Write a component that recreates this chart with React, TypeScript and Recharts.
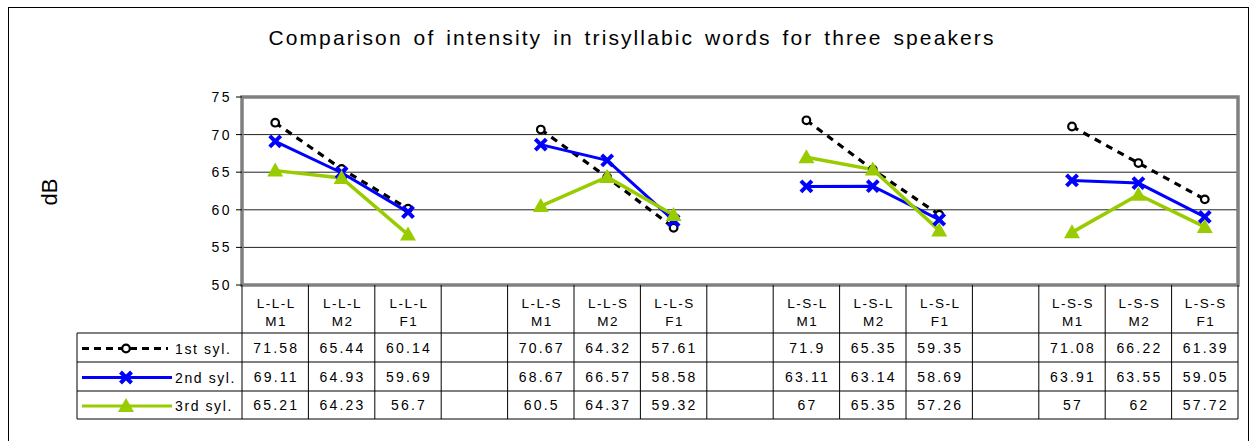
import { CartesianGrid, Customized, Line, LineChart, XAxis, YAxis } from 'recharts'

const wordTypes = ['L-L-L', 'L-L-L', 'L-L-L', '', 'L-L-S', 'L-L-S', 'L-L-S', '', 'L-S-L', 'L-S-L', 'L-S-L', '', 'L-S-S', 'L-S-S', 'L-S-S']
const speakers = ['M1', 'M2', 'F1', '', 'M1', 'M2', 'F1', '', 'M1', 'M2', 'F1', '', 'M1', 'M2', 'F1']
const firstSyl = [71.58, 65.44, 60.14, null, 70.67, 64.32, 57.61, null, 71.9, 65.35, 59.35, null, 71.08, 66.22, 61.39]
const secondSyl = [69.11, 64.93, 59.69, null, 68.67, 66.57, 58.58, null, 63.11, 63.14, 58.69, null, 63.91, 63.55, 59.05]
const thirdSyl = [65.21, 64.23, 56.7, null, 60.5, 64.37, 59.32, null, 67, 65.35, 57.26, null, 57, 62, 57.72]
const seriesNames = ['1st syl.', '2nd syl.', '3rd syl.']
const yTicks = [50, 55, 60, 65, 70, 75]

const W = 1254
const H = 441
const PLOT_LEFT = 242
const PLOT_RIGHT = 1238
const PLOT_TOP = 97
const PLOT_BOTTOM = 285
const Y_AXIS_W = 60
const TABLE_LEFT = 77
const TABLE_BOTTOM = 419
const ROW_LINES = [333, 362, 391, 419]
const COL_W = (PLOT_RIGHT - PLOT_LEFT) / wordTypes.length
const FONT = 'Arial, "Liberation Sans", sans-serif'

const BLACK = '#000000'
const BLUE = '#0000FF'
const GREEN = '#99CC00'
const GRID = '#808080'

const data = wordTypes.map((w, i) => ({
  key: `c${i}`,
  first: firstSyl[i],
  second: secondSyl[i],
  third: thirdSyl[i],
}))
const rows = [firstSyl, secondSyl, thirdSyl]

function Circle({ cx, cy }: { cx: number; cy: number }) {
  return <circle cx={cx} cy={cy} r={3.8} fill="#fff" stroke={BLACK} strokeWidth={2.2} />
}

function Cross({ cx, cy }: { cx: number; cy: number }) {
  const s = 5.5
  return (
    <g stroke={BLUE} strokeWidth={4}>
      <line x1={cx - s} y1={cy - s} x2={cx + s} y2={cy + s} />
      <line x1={cx - s} y1={cy + s} x2={cx + s} y2={cy - s} />
    </g>
  )
}

function Triangle({ cx, cy }: { cx: number; cy: number }) {
  return <polygon points={`${cx},${cy - 8} ${cx - 8},${cy + 6} ${cx + 8},${cy + 6}`} fill={GREEN} />
}

const markers = [Circle, Cross, Triangle]

function dotRenderer(Marker: typeof Circle) {
  return (p: any) => {
    if (p.cy == null || p.value == null) return <g key={`n${p.index}`} />
    return (
      <g key={`d${p.index}`}>
        <Marker cx={p.cx} cy={p.cy} />
      </g>
    )
  }
}

// header cell + the three value cells for one category
function TableTick(props: any) {
  const { x, index } = props
  const right = x + COL_W / 2
  const left = x - COL_W / 2
  const rowCenters = [0, 1, 2].map((r) => (ROW_LINES[r] + ROW_LINES[r + 1]) / 2)
  return (
    <g fontFamily={FONT} fill={BLACK} textAnchor="middle">
      {index === 0 && <line x1={left} y1={PLOT_BOTTOM} x2={left} y2={TABLE_BOTTOM} stroke={BLACK} strokeWidth={1} />}
      <line x1={right} y1={PLOT_BOTTOM} x2={right} y2={TABLE_BOTTOM} stroke={BLACK} strokeWidth={1} />
      <text x={x + 1} y={308} fontSize={13.5} letterSpacing={1.5}>
        {wordTypes[index]}
      </text>
      <text x={x + 1} y={326} fontSize={13.5} letterSpacing={1.5}>
        {speakers[index]}
      </text>
      {rows.map((row, r) =>
        row[index] == null ? null : (
          <text key={r} x={x + 1} y={rowCenters[r] + 5} fontSize={14} letterSpacing={2.2}>
            {String(row[index])}
          </text>
        ),
      )}
    </g>
  )
}

function Frame() {
  return (
    <g fontFamily={FONT}>
      <rect x={8.5} y={7.5} width={1240} height={440} fill="none" stroke={BLACK} strokeWidth={1} />
      <text x={632} y={45} textAnchor="middle" fontSize={21} letterSpacing={2.1} wordSpacing={3}>
        Comparison of intensity in trisyllabic words for three speakers
      </text>
      <text x={0} y={0} transform="translate(57,192) rotate(-90)" textAnchor="middle" fontSize={22}>
        dB
      </text>
      {/* plot border */}
      <rect
        x={PLOT_LEFT}
        y={PLOT_TOP}
        width={PLOT_RIGHT - PLOT_LEFT}
        height={PLOT_BOTTOM - PLOT_TOP}
        fill="none"
        stroke={GRID}
        strokeWidth={3.5}
      />
      {/* table rows */}
      {ROW_LINES.map((y) => (
        <line key={y} x1={TABLE_LEFT} y1={y} x2={PLOT_RIGHT} y2={y} stroke={BLACK} strokeWidth={1} />
      ))}
      <line x1={TABLE_LEFT} y1={ROW_LINES[0]} x2={TABLE_LEFT} y2={TABLE_BOTTOM} stroke={BLACK} strokeWidth={1} />
      {seriesNames.map((name, r) => {
        const cy = (ROW_LINES[r] + ROW_LINES[r + 1]) / 2 + 1
        const Marker = markers[r]
        const stroke = [BLACK, BLUE, GREEN][r]
        return (
          <g key={name}>
            <line
              x1={82}
              y1={cy}
              x2={r === 0 ? 168 : 172}
              y2={cy}
              stroke={stroke}
              strokeWidth={3}
              strokeDasharray={r === 0 ? '7 5' : undefined}
            />
            <Marker cx={126} cy={cy} />
            <text x={175} y={cy + 5} fontSize={14} letterSpacing={1.6}>
              {name}
            </text>
          </g>
        )
      })}
    </g>
  )
}

export default function App() {
  return (
    <div style={{ position: 'absolute', left: 0, top: 0, width: W, height: H, background: '#fff' }}>
      <LineChart
        width={W}
        height={H}
        data={data}
        margin={{ top: PLOT_TOP, right: W - PLOT_RIGHT, bottom: H - TABLE_BOTTOM, left: PLOT_LEFT - Y_AXIS_W }}
      >
        <CartesianGrid horizontal vertical={false} stroke="#222" strokeWidth={1} />
        <XAxis
          dataKey="key"
          scale="band"
          interval={0}
          height={TABLE_BOTTOM - PLOT_BOTTOM}
          axisLine={false}
          tickLine={false}
          tick={<TableTick />}
        />
        <YAxis
          width={Y_AXIS_W}
          domain={[50, 75]}
          ticks={yTicks}
          interval={0}
          tickSize={6}
          tickMargin={4}
          axisLine={false}
          tickLine={{ stroke: BLACK }}
          tick={{ fontSize: 14, fill: BLACK, fontFamily: FONT, letterSpacing: 2.5 }}
        />
        <Customized component={<Frame />} />
        <Line
          dataKey="first"
          stroke={BLACK}
          strokeWidth={3.2}
          strokeDasharray="7 6"
          dot={dotRenderer(Circle)}
          activeDot={false}
          isAnimationActive={false}
        />
        <Line
          dataKey="second"
          stroke={BLUE}
          strokeWidth={3}
          dot={dotRenderer(Cross)}
          activeDot={false}
          isAnimationActive={false}
        />
        <Line
          dataKey="third"
          stroke={GREEN}
          strokeWidth={3.5}
          dot={dotRenderer(Triangle)}
          activeDot={false}
          isAnimationActive={false}
        />
      </LineChart>
    </div>
  )
}
